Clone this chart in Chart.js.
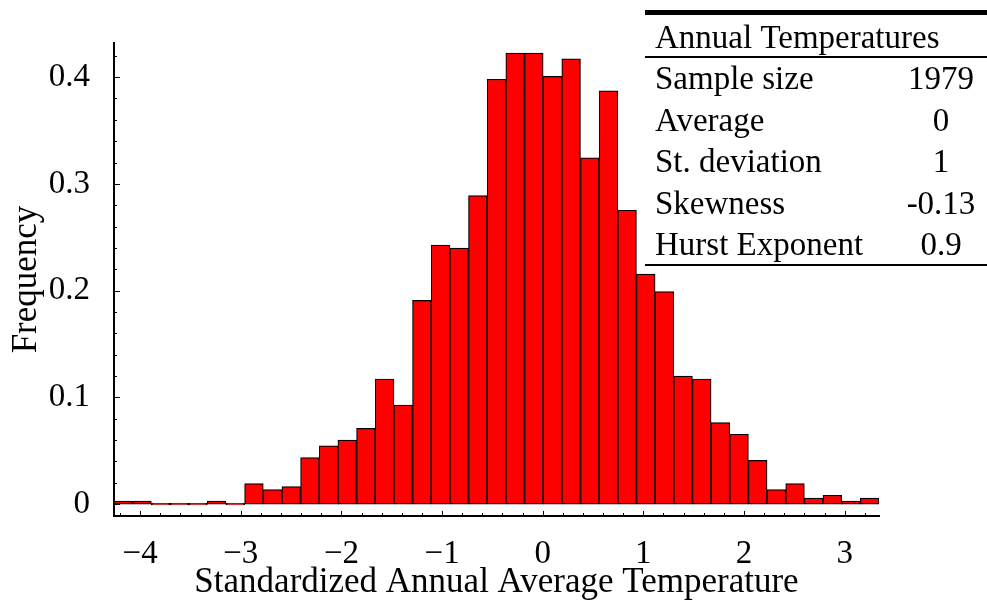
<!DOCTYPE html>
<html>
<head>
<meta charset="utf-8">
<script src="https://cdn.jsdelivr.net/npm/chart.js@4.4.1/dist/chart.umd.min.js"></script>
<style>
  html, body { margin: 0; padding: 0; background: #fff; }
  #wrap { width: 987px; height: 604px; }
</style>
</head>
<body>
<div id="wrap"><canvas id="histChart" width="987" height="604"></canvas></div>
<script>
// histogram bins: 41 equal bins starting at binStart
const binStart = -4.26;
const binWidth = 0.1854;
const frequency = [
    0.0027, 0.0027, 0, 0, 0, 0.0027, 0, 0.0191, 0.0136, 0.0164,
    0.0436, 0.0545, 0.0600, 0.0709, 0.1172, 0.0927, 0.1908, 0.2426, 0.2399, 0.2890,
    0.3980, 0.4225, 0.4225, 0.4007, 0.4171, 0.3244, 0.3871, 0.2753, 0.2154, 0.1990,
    0.1199, 0.1172, 0.0763, 0.0654, 0.0409, 0.0136, 0.0191, 0.0055, 0.0082, 0.0027,
    0.0055,
];

// axis ticks (labelled ones)
const xTickLabels = [-4, -3, -2, -1, 0, 1, 2, 3];
const yTickLabels = [0, 0.1, 0.2, 0.3, 0.4];

// summary table
const tableTitle = "Annual Temperatures";
const statNames = ["Sample size", "Average", "St. deviation", "Skewness", "Hurst Exponent"];
const statValues = ["1979", "0", "1", "-0.13", "0.9"];

const FONT = '"Liberation Serif", "Times New Roman", serif';
const xMin = binStart;
const xMax = binStart + frequency.length * binWidth;

const points = frequency.map((f, i) => ({ x: binStart + (i + 0.5) * binWidth, y: f }));

// tick marks point into the plot, majors longer than minors
const inwardTicks = {
    id: "inwardTicks",
    afterDraw(chart) {
        const { ctx, scales: { x, y } } = chart;
        const base = chart.chartArea.bottom;
        const left = chart.chartArea.left;
        ctx.save();
        ctx.strokeStyle = "#000";
        ctx.lineWidth = 1;
        ctx.beginPath();
        x.ticks.forEach((t) => {
            const px = Math.round(x.getPixelForValue(t.value)) + 0.5;
            const len = xTickLabels.some((v) => Math.abs(v - t.value) < 1e-6) ? 5 : 3;
            ctx.moveTo(px, base);
            ctx.lineTo(px, base - len);
        });
        y.ticks.forEach((t) => {
            const py = Math.round(y.getPixelForValue(t.value)) + 0.5;
            const len = yTickLabels.some((v) => Math.abs(v - t.value) < 1e-6) ? 6 : 3;
            ctx.moveTo(left, py);
            ctx.lineTo(left + len, py);
        });
        ctx.stroke();
        ctx.restore();
    },
};

// stats table in the top right corner
const statsTable = {
    id: "statsTable",
    afterDraw(chart) {
        const ctx = chart.ctx;
        const x0 = 645, x1 = 987;
        ctx.save();
        ctx.fillStyle = "#000";
        ctx.fillRect(x0, 10, x1 - x0, 5);
        ctx.fillRect(x0, 56, x1 - x0, 2);
        ctx.fillRect(x0, 264, x1 - x0, 2);
        ctx.font = "33px " + FONT;
        ctx.textBaseline = "alphabetic";
        ctx.textAlign = "left";
        ctx.fillText(tableTitle, 655, 48);
        statNames.forEach((name, i) => {
            const by = 89 + i * 41.5;
            ctx.textAlign = "left";
            ctx.fillText(name, 655, by);
            ctx.textAlign = "center";
            ctx.fillText(statValues[i], 941, by);
        });
        ctx.restore();
    },
};

const ctx = document.getElementById("histChart").getContext("2d");
new Chart(ctx, {
    type: "bar",
    data: {
        datasets: [
            {
                data: points,
                backgroundColor: "#ff0000",
                borderColor: "#000",
                borderWidth: 1.2,
                borderSkipped: false,
                barPercentage: 1,
                categoryPercentage: 1,
                minBarLength: 1.5,
            },
        ],
    },
    options: {
        responsive: false,
        animation: false,
        events: [],
        layout: { padding: { top: 43, right: 108, bottom: 0, left: 0 } },
        plugins: {
            legend: { display: false },
            tooltip: { enabled: false },
        },
        scales: {
            x: {
                type: "linear",
                min: xMin,
                max: xMax,
                offset: false,
                grid: { display: false },
                border: { display: true, color: "#000", width: 2 },
                afterBuildTicks: (scale) => {
                    const ticks = [];
                    for (let k = -21; k <= 16; k++) ticks.push({ value: k / 5 });
                    scale.ticks = ticks;
                },
                afterFit: (scale) => { scale.height = 88; },
                ticks: {
                    autoSkip: false,
                    maxRotation: 0,
                    padding: 11,
                    color: "#000",
                    font: { family: FONT, size: 33 },
                    callback: (v) => {
                        const hit = xTickLabels.find((t) => Math.abs(t - v) < 1e-6);
                        if (hit === undefined) return "";
                        return hit < 0 ? "\u2212" + Math.abs(hit) : String(hit);
                    },
                },
                title: {
                    display: true,
                    text: "Standardized Annual Average Temperature",
                    color: "#000",
                    font: { family: FONT, size: 35 },
                    padding: { top: 0, bottom: 0 },
                },
            },
            y: {
                min: -0.0112,
                max: 0.432,
                grid: { display: false },
                border: { display: true, color: "#000", width: 2 },
                afterBuildTicks: (scale) => {
                    const ticks = [];
                    for (let k = 0; k <= 21; k++) ticks.push({ value: k / 50 });
                    scale.ticks = ticks;
                },
                afterFit: (scale) => { scale.width = 114; },
                ticks: {
                    autoSkip: false,
                    padding: 16,
                    color: "#000",
                    font: { family: FONT, size: 33 },
                    callback: (v) => {
                        const hit = yTickLabels.find((t) => Math.abs(t - v) < 1e-6);
                        if (hit === undefined) return "";
                        return hit === 0 ? "0" : hit.toFixed(1);
                    },
                },
                title: {
                    display: true,
                    text: "Frequency",
                    color: "#000",
                    font: { family: FONT, size: 35 },
                    padding: { top: 6, bottom: 0 },
                },
            },
        },
    },
    plugins: [inwardTicks, statsTable],
});
</script>
</body>
</html>
